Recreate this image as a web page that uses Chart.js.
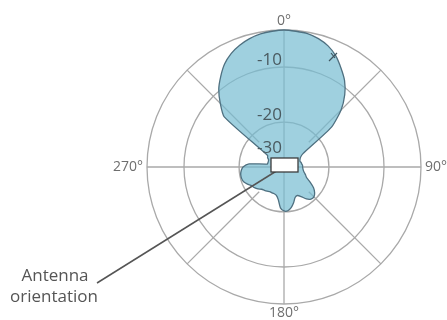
<!DOCTYPE html>
<html>
<head>
<meta charset="utf-8">
<script src="https://cdn.jsdelivr.net/npm/chart.js@4.4.1/dist/chart.umd.min.js"></script>
<style>
html, body { margin: 0; padding: 0; background: #fff; }
canvas { display: block; }
</style>
</head>
<body>
<canvas id="pattern" width="447" height="320"></canvas>
<script>
// bearing of each sample, degrees clockwise from boresight
let bearings = [
    0, 5, 10, 15, 20, 25, 30, 35, 40, 45, 50, 55,
    60, 65, 70, 75, 80, 85, 90, 95, 100, 105, 110, 115,
    120, 125, 130, 135, 140, 145, 150, 155, 160, 165, 170, 175,
    180, 185, 190, 195, 200, 205, 210, 215, 220, 225, 230, 235,
    240, 245, 250, 255, 260, 265, 270, 275, 280, 285, 290, 295,
    300, 305, 310, 315, 320, 325, 330, 335, 340, 345, 350, 355
];
// relative gain in dB
let gainDb = [
    0, -0.2, -0.4, -1.1, -2.2, -3.9, -6.2, -8.5, -11.0, -13.5, -16.9, -26.7,
    -27.9, -28.3, -28.5, -28.3, -28.2, -28.0, -28.0, -27.9, -27.7, -27.3, -26.7, -26.1,
    -24.5, -22.7, -21.5, -20.8, -20.9, -21.8, -23.3, -24.1, -23.8, -22.4, -21.1, -20.3,
    -20.3, -21.2, -23.6, -24.7, -25.0, -25.0, -25.0, -24.7, -24.4, -24.1, -23.3, -22.7,
    -22.3, -21.4, -20.6, -20.3, -20.3, -20.6, -21.2, -23.0, -28.5, -28.6, -28.6, -28.5,
    -27.9, -27.6, -14.0, -11.8, -9.6, -7.2, -4.9, -3.2, -2.0, -1.1, -0.5, -0.2
];
let ringValues = [-30, -20, -10];

// the printed grid is not linear in dB: value -> fraction of the radius
const ringStops = [[-40, 0], [-30, 0.088], [-20, 0.328], [-10, 0.73], [0, 1]];

class PatternScale extends Chart.RadialLinearScale {
    getDistanceFromCenterForValue(value) {
        if (value === null || isNaN(value)) return NaN;
        let v = Math.max(ringStops[0][0], Math.min(0, value));
        for (let i = 1; i < ringStops.length; i++) {
            let a = ringStops[i - 1], b = ringStops[i];
            if (v <= b[0]) {
                return this.drawingArea * (a[1] + (b[1] - a[1]) * (v - a[0]) / (b[0] - a[0]));
            }
        }
        return this.drawingArea;
    }
    drawGrid(area) {
        super.drawGrid(area);
        let ctx = this.ctx;
        let n = this._pointLabels.length;
        ctx.save();
        ctx.strokeStyle = '#a9a9a9';
        ctx.lineWidth = 1.3;
        for (let i = 0; i < n; i += n / 8) {
            let from = (i % (n / 4) === 0) ? {x: this.xCenter, y: this.yCenter}
                                            : this.getPointPositionForValue(i, -23);
            let to = this.getPointPositionForValue(i, 0);
            ctx.beginPath();
            ctx.moveTo(from.x, from.y);
            ctx.lineTo(to.x, to.y);
            ctx.stroke();
        }
        ctx.restore();
    }
    drawLabels() {
        let ctx = this.ctx;
        ctx.save();
        ctx.font = '17px "Open Sans"';
        ctx.fillStyle = '#4a5a60';
        ctx.textAlign = 'right';
        ctx.textBaseline = 'middle';
        this.ticks.forEach(tick => {
            if (!tick.label) return;
            let d = this.getDistanceFromCenterForValue(tick.value);
            ctx.fillText(tick.label, this.xCenter - 2, this.yCenter - d - 7);
        });
        ctx.font = '14px "Open Sans"';
        ctx.fillStyle = '#6e6e6e';
        this._pointLabels.forEach((label, i) => {
            if (!label) return;
            let a = this.getIndexAngle(i);
            let s = Math.round(Math.sin(a));
            let p = this.getPointPosition(i, this.drawingArea + (s === 0 ? 9 : 4));
            ctx.textAlign = s > 0 ? 'left' : s < 0 ? 'right' : 'center';
            ctx.fillText(label, p.x, p.y);
        });
        ctx.restore();
    }
}
PatternScale.id = 'patternRadial';
PatternScale.defaults = Chart.RadialLinearScale.defaults;
Chart.register(PatternScale);

let antennaNote = {
    id: 'antennaNote',
    afterDatasetsDraw(chart) {
        let ctx = chart.ctx;
        let r = chart.scales.r;
        let cx = r.xCenter, cy = r.yCenter;
        ctx.save();
        // leader line
        ctx.strokeStyle = '#555';
        ctx.lineWidth = 1.5;
        ctx.beginPath();
        ctx.moveTo(97, 283);
        ctx.lineTo(cx - 6, cy + 3);
        ctx.stroke();
        // antenna body
        ctx.fillStyle = '#fff';
        ctx.strokeStyle = '#3c3c3c';
        ctx.lineWidth = 1.3;
        ctx.fillRect(cx - 13, cy - 9, 27, 14);
        ctx.strokeRect(cx - 13, cy - 9, 27, 14);
        // small mark on the main lobe
        ctx.strokeStyle = '#3f5560';
        ctx.lineWidth = 1.2;
        ctx.beginPath();
        ctx.moveTo(329, 61); ctx.lineTo(337, 53);
        ctx.moveTo(331, 53); ctx.lineTo(335, 58);
        ctx.stroke();
        // caption
        ctx.fillStyle = '#555';
        ctx.font = '17px "Open Sans"';
        ctx.textAlign = 'center';
        ctx.textBaseline = 'middle';
        ctx.fillText('Antenna', 55, 276);
        ctx.fillText('orientation', 54, 297);
        ctx.restore();
    }
};

let patternChart = new Chart(document.getElementById('pattern'), {
    type: 'radar',
    data: {
        labels: bearings,
        datasets: [{
            data: gainDb,
            fill: 'start',
            backgroundColor: 'rgba(118,188,209,0.7)',
            borderColor: '#4f7080',
            borderWidth: 1.3,
            pointRadius: 0,
            tension: 0.2
        }]
    },
    options: {
        responsive: false,
        animation: false,
        devicePixelRatio: 1,
        layout: {
            padding: {left: 147, right: 26, top: 30, bottom: 16}
        },
        plugins: {
            legend: {display: false},
            tooltip: {enabled: false}
        },
        scales: {
            r: {
                type: 'patternRadial',
                min: -40,
                max: 0,
                startAngle: 0,
                ticks: {
                    display: false,
                    stepSize: 10,
                    z: 1,
                    callback: function(value) {
                        return ringValues.includes(value) ? String(value) : '';
                    }
                },
                grid: {
                    circular: true,
                    lineWidth: 1.3,
                    color: function(ctx) {
                        let v = ctx.tick && ctx.tick.value;
                        return (v === -10 || v === -20 || v === 0) ? '#a9a9a9' : 'rgba(0,0,0,0)';
                    }
                },
                angleLines: {display: false},
                pointLabels: {
                    display: false,
                    callback: function(label) {
                        return label % 90 === 0 ? label + '°' : '';
                    }
                }
            }
        }
    },
    plugins: [antennaNote]
});
</script>
</body>
</html>
